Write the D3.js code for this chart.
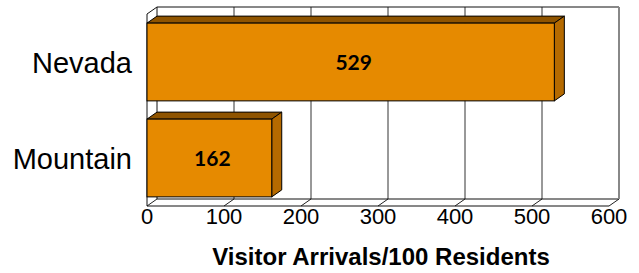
<!DOCTYPE html>
<html>
<head>
<meta charset="utf-8">
<script src="https://cdn.jsdelivr.net/npm/d3@7"></script>
<style>
  body { margin: 0; background: #fff; }
  svg { display: block; }
</style>
</head>
<body>
<div id="chart"></div>
<script>
// data
const categories = ["Nevada", "Mountain"];
const values = [529, 162];
const xTicks = [0, 100, 200, 300, 400, 500, 600];
const axisTitle = "Visitor Arrivals/100 Residents";

const W = 639, H = 273;
const plotLeft = 147, plotRight = 609, plotTop = 14, plotBottom = 206;
const dx = 10, dy = -7; // 3d depth

const svg = d3.select("#chart").append("svg")
    .attr("width", W)
    .attr("height", H);

const x = d3.scaleLinear().domain([0, 600]).range([plotLeft, plotRight]);
const y = d3.scaleBand().domain(categories).range([plotTop, plotBottom])
    .paddingInner(0.19).paddingOuter(0.095);

// back wall gridlines
const grid = svg.append("g");
grid.selectAll(".grid")
    .data(xTicks.slice(1, -1))
    .enter().append("line")
    .attr("x1", d => x(d) + dx).attr("x2", d => x(d) + dx)
    .attr("y1", plotTop + dy).attr("y2", plotBottom + dy)
    .attr("stroke", "#333").attr("stroke-width", 1);

// floor diagonals
grid.selectAll(".floor")
    .data(xTicks)
    .enter().append("line")
    .attr("x1", d => x(d)).attr("x2", d => x(d) + dx)
    .attr("y1", plotBottom).attr("y2", plotBottom + dy)
    .attr("stroke", "#222").attr("stroke-width", 1);

// frame lines
const frame = [
    [x(0) + dx, plotTop + dy, x(600) + dx, plotTop + dy],
    [x(0) + dx, plotTop + dy, x(0) + dx, plotBottom + dy],
    [x(0), plotTop, x(0) + dx, plotTop + dy],
    [x(0), plotTop, x(0), plotBottom],
    [x(0), plotBottom, x(600), plotBottom],
    [x(0) + dx, plotBottom + dy, x(600) + dx, plotBottom + dy]
];
grid.selectAll(".frame")
    .data(frame)
    .enter().append("line")
    .attr("x1", d => d[0]).attr("y1", d => d[1])
    .attr("x2", d => d[2]).attr("y2", d => d[3])
    .attr("stroke", "#111").attr("stroke-width", 1);

grid.append("line")
    .attr("x1", x(600) + dx).attr("x2", x(600) + dx)
    .attr("y1", plotTop + dy).attr("y2", plotBottom + dy)
    .attr("stroke", "#888").attr("stroke-width", 2);

// bars
const bars = svg.selectAll(".bar")
    .data(categories.map((c, i) => ({ c, v: values[i] })))
    .enter().append("g");

bars.append("path")
    .attr("d", d => {
        const y0 = y(d.c), x0 = x(0), x1 = x(d.v);
        return `M${x0},${y0}L${x0 + dx},${y0 + dy}L${x1 + dx},${y0 + dy}L${x1},${y0}Z`;
    })
    .attr("fill", "#8f5400").attr("stroke", "#000").attr("stroke-width", 1);

bars.append("path")
    .attr("d", d => {
        const y0 = y(d.c), y1 = y0 + y.bandwidth(), x1 = x(d.v);
        return `M${x1},${y0}L${x1 + dx},${y0 + dy}L${x1 + dx},${y1 + dy}L${x1},${y1}Z`;
    })
    .attr("fill", "#b56a00").attr("stroke", "#000").attr("stroke-width", 1);

bars.append("rect")
    .attr("x", x(0))
    .attr("y", d => y(d.c))
    .attr("width", d => x(d.v) - x(0))
    .attr("height", y.bandwidth())
    .attr("fill", "#e68a00").attr("stroke", "#000").attr("stroke-width", 1);

bars.append("text")
    .attr("x", d => (x(0) + x(d.v)) / 2 + 3)
    .attr("y", d => y(d.c) + y.bandwidth() / 2)
    .attr("dy", "0.36em")
    .attr("text-anchor", "middle")
    .style("font-family", "Lato, sans-serif")
    .style("font-weight", "bold")
    .style("font-size", "21px")
    .text(d => d.v);

// category labels
svg.selectAll(".cat")
    .data(categories)
    .enter().append("text")
    .attr("x", 132)
    .attr("y", d => y(d) + y.bandwidth() / 2 + 1)
    .attr("dy", "0.36em")
    .attr("text-anchor", "end")
    .style("font-family", "Liberation Sans, Arial, sans-serif")
    .style("font-size", "29px")
    .text(d => d);

// tick labels
svg.selectAll(".tick")
    .data(xTicks)
    .enter().append("text")
    .attr("x", d => x(d))
    .attr("y", 224)
    .attr("text-anchor", "middle")
    .style("font-family", "Liberation Sans, Arial, sans-serif")
    .style("font-size", "22px")
    .text(d => d);

svg.append("text")
    .attr("x", 381)
    .attr("y", 265)
    .attr("text-anchor", "middle")
    .style("font-family", "Liberation Sans, Arial, sans-serif")
    .style("font-weight", "bold")
    .style("font-size", "24px")
    .text(axisTitle);
</script>
</body>
</html>
